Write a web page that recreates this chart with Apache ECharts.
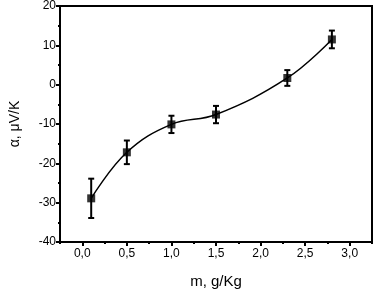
<!DOCTYPE html>
<html>
<head>
<meta charset="utf-8">
<script src="https://cdn.jsdelivr.net/npm/echarts@6/dist/echarts.min.js"></script>
<style>
  html, body { margin: 0; padding: 0; background: #fff; }
  #chart { width: 376px; height: 294px; }
</style>
</head>
<body>
<div id="chart"></div>
<script>
// concentration m, g/Kg
var xValues = [0.1, 0.5, 1.0, 1.5, 2.3, 2.8];
// alpha, uV/K
var yValues = [-28.9, -17.2, -10.1, -7.6, 1.7, 11.5];
// error bar half widths
var yErrors = [5.0, 3.0, 2.2, 2.2, 2.0, 2.25];

var xMajorTicks = [0, 0.5, 1.0, 1.5, 2.0, 2.5, 3.0];
var xMinorTicks = [-0.25, 0.25, 0.75, 1.25, 1.75, 2.25, 2.75, 3.25];

var points = [];
var errData = [];
for (var i = 0; i < xValues.length; i++) {
  points.push([xValues[i], yValues[i]]);
  errData.push([xValues[i], yValues[i] - yErrors[i], yValues[i] + yErrors[i]]);
}

var myChart = echarts.init(document.getElementById("chart"));
var fontFam = "Liberation Sans, Arial, sans-serif";

var option = {
  animation: false,
  grid: {
    left: 51,
    top: 6,
    right: 4,
    bottom: 47,
    show: true,
    borderColor: "#000",
    borderWidth: 2
  },
  xAxis: [
    {
      type: "value",
      min: -0.25,
      max: 3.25,
      name: "m, g/Kg",
      nameLocation: "middle",
      nameGap: 32,
      nameTextStyle: { color: "#000", fontSize: 15, fontFamily: fontFam },
      axisLine: { show: true, onZero: false, lineStyle: { color: "#000", width: 2 } },
      axisTick: {
        show: true,
        customValues: xMajorTicks,
        length: 4,
        lineStyle: { color: "#000", width: 2 }
      },
      axisLabel: {
        customValues: xMajorTicks,
        color: "#000",
        fontSize: 12,
        fontFamily: fontFam,
        margin: 6,
        formatter: function (v) {
          return v.toFixed(1).replace(".", ",");
        }
      },
      splitLine: { show: false }
    },
    {
      type: "value",
      position: "bottom",
      min: -0.25,
      max: 3.25,
      axisLine: { show: false, onZero: false },
      axisTick: {
        show: true,
        customValues: xMinorTicks,
        length: 2,
        lineStyle: { color: "#000", width: 2 }
      },
      axisLabel: { show: false },
      splitLine: { show: false }
    }
  ],
  yAxis: {
    type: "value",
    min: -40,
    max: 20,
    interval: 10,
    name: "\u03b1, \u03bcV/K",
    nameLocation: "middle",
    nameGap: 38,
    nameTextStyle: { color: "#000", fontSize: 14, fontFamily: fontFam },
    axisLine: { show: true, onZero: false, lineStyle: { color: "#000", width: 2 } },
    axisTick: { show: true, length: 4, lineStyle: { color: "#000", width: 2 } },
    minorTick: { show: true, splitNumber: 2, length: 2, lineStyle: { color: "#000", width: 2 } },
    axisLabel: { color: "#000", fontSize: 12, fontFamily: fontFam, margin: 4 },
    splitLine: { show: false }
  },
  series: [
    {
      name: "fit",
      type: "line",
      data: points,
      smooth: 0.4,
      symbol: "none",
      lineStyle: { color: "#000", width: 1.5 },
      z: 2
    },
    {
      name: "err",
      type: "custom",
      data: errData,
      z: 3,
      renderItem: function (params, api) {
        var x = api.value(0);
        var lo = api.coord([x, api.value(1)]);
        var hi = api.coord([x, api.value(2)]);
        var cap = 3;
        var st = { stroke: "#000", lineWidth: 2 };
        return {
          type: "group",
          children: [
            { type: "line", shape: { x1: lo[0], y1: lo[1], x2: hi[0], y2: hi[1] }, style: st },
            { type: "line", shape: { x1: lo[0] - cap, y1: lo[1], x2: lo[0] + cap, y2: lo[1] }, style: st },
            { type: "line", shape: { x1: hi[0] - cap, y1: hi[1], x2: hi[0] + cap, y2: hi[1] }, style: st }
          ]
        };
      }
    },
    {
      name: "points",
      type: "scatter",
      data: points,
      symbol: "rect",
      symbolSize: 8,
      itemStyle: { color: "#000" },
      z: 4
    }
  ]
};

myChart.setOption(option);
window.addEventListener("resize", function () {
  myChart.resize();
});
</script>
</body>
</html>
